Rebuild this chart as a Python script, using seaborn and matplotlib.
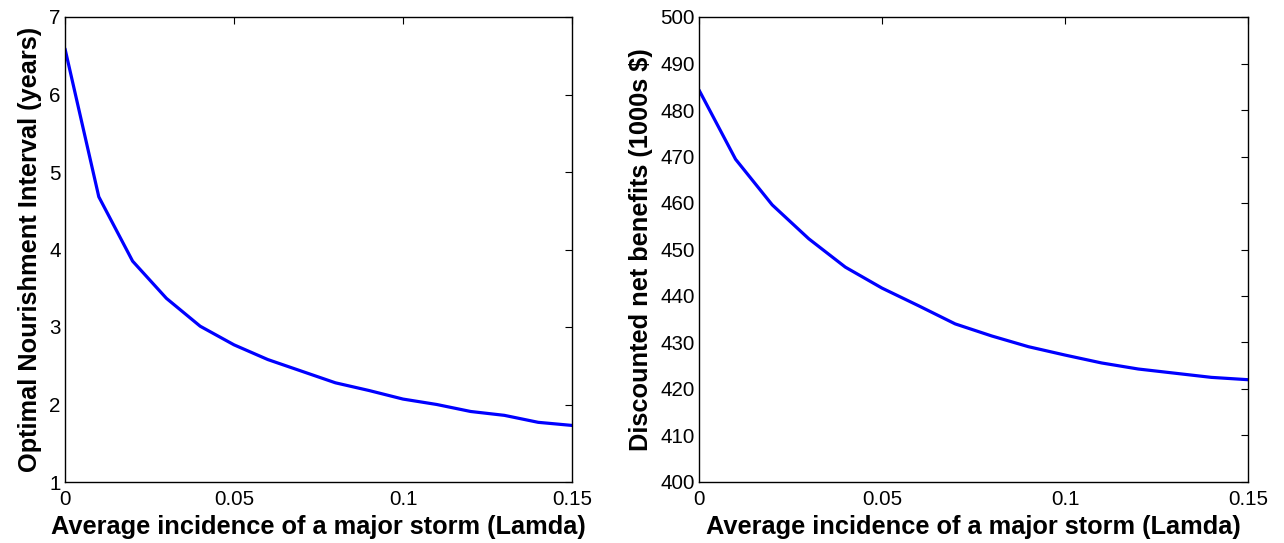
import matplotlib
matplotlib.use("Agg")
import matplotlib.pyplot as plt
import seaborn as sns
import pandas as pd

lamda = [0.00, 0.01, 0.02, 0.03, 0.04, 0.05, 0.06, 0.07, 0.08, 0.09,
         0.10, 0.11, 0.12, 0.13, 0.14, 0.15]
interval = [6.59, 4.68, 3.85, 3.37, 3.01, 2.77, 2.58, 2.43, 2.28, 2.18,
            2.07, 2.00, 1.91, 1.86, 1.77, 1.73]
benefits = [484.3, 469.4, 459.6, 452.3, 446.2, 441.7, 437.9, 434.0, 431.4, 429.1,
            427.3, 425.6, 424.3, 423.4, 422.5, 422.0]

x_ticks = [0, 0.05, 0.1, 0.15]
x_ticklabels = ["0", "0.05", "0.1", "0.15"]
left_yticks = [1, 2, 3, 4, 5, 6, 7]
right_yticks = [400, 410, 420, 430, 440, 450, 460, 470, 480, 490, 500]

xlabel = "Average incidence of a major storm (Lamda)"
left_ylabel = "Optimal Nourishment Interval (years)"
right_ylabel = "Discounted net benefits (1000s $)"

df = pd.DataFrame({"lamda": lamda, "interval": interval, "benefits": benefits})

sns.set_theme(style="white")
plt.rcParams["font.family"] = ["Liberation Sans", "DejaVu Sans"]
plt.rcParams["text.color"] = "black"
plt.rcParams["axes.labelcolor"] = "black"

W, H = 1284, 543
fig = plt.figure(figsize=(W / 100, H / 100), dpi=100)
ax1 = fig.add_axes([65 / W, 1 - 482 / H, (572 - 65) / W, 465 / H])
ax2 = fig.add_axes([699 / W, 1 - 482 / H, (1248 - 699) / W, 465 / H])

sns.lineplot(data=df, x="lamda", y="interval", ax=ax1, color="#0000ff", linewidth=2.3)
sns.lineplot(data=df, x="lamda", y="benefits", ax=ax2, color="#0000ff", linewidth=2.3)

for ax, yt, ylab in [(ax1, left_yticks, left_ylabel), (ax2, right_yticks, right_ylabel)]:
    ax.set_xlim(0, 0.15)
    ax.set_ylim(yt[0], yt[-1])
    ax.set_xticks(x_ticks)
    ax.set_xticklabels(x_ticklabels)
    ax.set_yticks(yt)
    ax.set_xlabel(xlabel, fontsize=18.3, fontweight="bold", labelpad=4, color="black")
    ax.set_ylabel(ylab, fontsize=18.3, fontweight="bold", labelpad=5, color="black")
    ax.tick_params(axis="both", which="both", direction="in", length=5, width=0.8,
                   top=True, right=True, labelsize=14.8, colors="black", pad=3)
    ax.tick_params(axis="x", pad=6)
    for s in ax.spines.values():
        s.set_visible(True)
        s.set_color("black")
        s.set_linewidth(1.0)

fig.savefig("out.png", dpi=100, facecolor="white")
